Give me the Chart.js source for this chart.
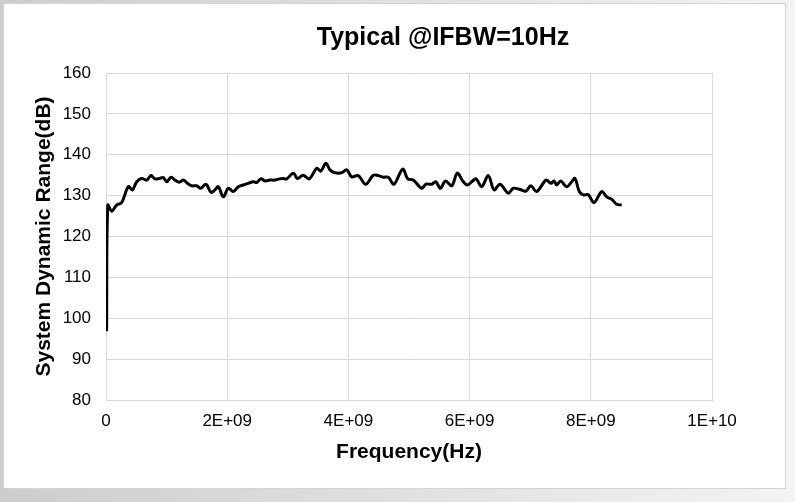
<!DOCTYPE html>
<html>
<head>
<meta charset="utf-8">
<script src="https://cdn.jsdelivr.net/npm/chart.js@4"></script>
<style>
  html, body { margin: 0; padding: 0; }
  body {
    width: 795px; height: 502px; overflow: hidden;
    background: linear-gradient(to right, #cdcdcd, #f3f3f3);
    position: relative;
  }
  .card {
    position: absolute; left: 3px; top: 3px;
    width: 783px; height: 486px; box-sizing: border-box;
    border: 1px solid #d4d4d4; background: #fff;
  }
  canvas { display: block; }
</style>
</head>
<body>
<div class="card"><canvas id="dr_chart" width="781" height="484"></canvas></div>
<script>
// frequency in GHz
var freqGHz = [0.01, 0.03, 0.094, 0.177, 0.259, 0.368, 0.434, 0.507, 0.589, 0.672,
  0.743, 0.809, 0.880, 0.946, 1.002, 1.073, 1.139, 1.210, 1.276, 1.342,
  1.414, 1.497, 1.563, 1.650, 1.733, 1.799, 1.853, 1.936, 2.018, 2.101,
  2.183, 2.266, 2.348, 2.431, 2.487, 2.553, 2.624, 2.706, 2.789, 2.860,
  2.916, 2.982, 3.091, 3.157, 3.256, 3.355, 3.477, 3.543, 3.630, 3.696,
  3.779, 3.889, 3.972, 4.054, 4.163, 4.285, 4.411, 4.493, 4.576, 4.658,
  4.752, 4.896, 4.979, 5.071, 5.210, 5.281, 5.375, 5.441, 5.518, 5.602,
  5.705, 5.797, 5.886, 5.962, 6.035, 6.106, 6.200, 6.309, 6.403, 6.502,
  6.639, 6.721, 6.832, 6.931, 7.008, 7.107, 7.261, 7.343, 7.393, 7.437,
  7.503, 7.602, 7.685, 7.739, 7.810, 7.876, 7.959, 8.053, 8.180, 8.262,
  8.345, 8.427, 8.510]
// system dynamic range in dB
var rangeDb = [96.8, 127.7, 126.2, 127.7, 128.3, 132.2, 131.4, 133.4, 134.2, 133.8,
  134.9, 134.1, 134.2, 134.4, 133.4, 134.5, 133.8, 133.3, 133.8, 133.0,
  132.4, 132.4, 131.8, 132.8, 130.8, 131.4, 132.2, 129.7, 131.8, 131.0,
  132.2, 132.6, 133.0, 133.4, 133.2, 134.1, 133.6, 133.8, 133.8, 134.1,
  134.2, 134.1, 135.5, 134.2, 135.0, 134.1, 136.7, 136.0, 137.9, 136.3,
  135.6, 135.6, 136.3, 134.6, 134.9, 132.8, 135.0, 134.9, 134.5, 134.5,
  132.8, 136.5, 134.1, 133.8, 131.8, 132.8, 132.8, 133.4, 131.8, 133.6,
  132.4, 135.5, 133.6, 132.6, 133.4, 134.1, 132.2, 134.9, 131.4, 132.8,
  130.6, 131.8, 131.5, 131.1, 132.4, 131.0, 133.8, 133.0, 133.6, 132.6,
  133.6, 132.2, 133.4, 134.2, 131.0, 130.2, 130.2, 128.3, 131.0, 129.7,
  129.1, 127.9, 127.7]

var chartTitle = 'Typical @IFBW=10Hz'
var xTitle = 'Frequency(Hz)'
var yTitle = 'System Dynamic Range(dB)'

var FONT = '"Liberation Sans", Arial, sans-serif'
var GRID = '#d9d9d9'

function excelSci(v) {
  if (v === 0) return '0'
  var exp = Math.floor(Math.log10(v) + 1e-9)
  var mant = Math.round(v / Math.pow(10, exp))
  var e = String(exp)
  if (e.length < 2) e = '0' + e
  return mant + 'E+' + e
}

var points = []
for (let i = 0; i < freqGHz.length; i++) {
  points.push({ x: freqGHz[i] * 1e9, y: rangeDb[i] })
}

// title sits right of the plot centre, so draw it by hand
var titlePlugin = {
  id: 'offsetTitle',
  afterDraw: function(chart) {
    var ctx = chart.ctx
    ctx.save()
    ctx.font = 'bold 25px ' + FONT
    ctx.fillStyle = '#000'
    ctx.textAlign = 'center'
    ctx.textBaseline = 'middle'
    ctx.fillText(chartTitle, 439, 34)
    ctx.restore()
  }
}

var ctx = document.getElementById('dr_chart').getContext('2d')
var myChart = new Chart(ctx, {
  type: 'line',
  data: {
    datasets: [{
      data: points,
      borderColor: '#000',
      borderWidth: 3,
      pointRadius: 0,
      tension: 0.35,
      fill: false
    }]
  },
  options: {
    responsive: false,
    animation: false,
    layout: { padding: { left: 20, top: 69, right: 73, bottom: 0 } },
    plugins: {
      legend: { display: false },
      tooltip: { enabled: false }
    },
    scales: {
      x: {
        type: 'linear',
        min: 0, max: 1e10,
        grid: { color: GRID, drawTicks: false },
        border: { color: GRID },
        ticks: {
          stepSize: 2e9, padding: 11, color: '#000',
          font: { family: FONT, size: 17 },
          maxRotation: 0,
          callback: function(v) { return excelSci(v) }
        },
        title: {
          display: true, text: xTitle, color: '#000',
          font: { family: FONT, size: 21, weight: 'bold' },
          padding: { top: 0, bottom: 23 }
        },
        afterFit: function(scale) { scale.height = 88 }
      },
      y: {
        min: 80, max: 160,
        grid: { color: GRID, drawTicks: false },
        border: { color: GRID },
        ticks: {
          stepSize: 10, padding: 15, color: '#000',
          font: { family: FONT, size: 17 }
        },
        title: {
          display: true, text: yTitle, color: '#000',
          font: { family: FONT, size: 21, weight: 'bold' },
          padding: { top: 8, bottom: 0 }
        },
        afterFit: function(scale) { scale.width = 82 }
      }
    }
  },
  plugins: [titlePlugin]
})
</script>
</body>
</html>
